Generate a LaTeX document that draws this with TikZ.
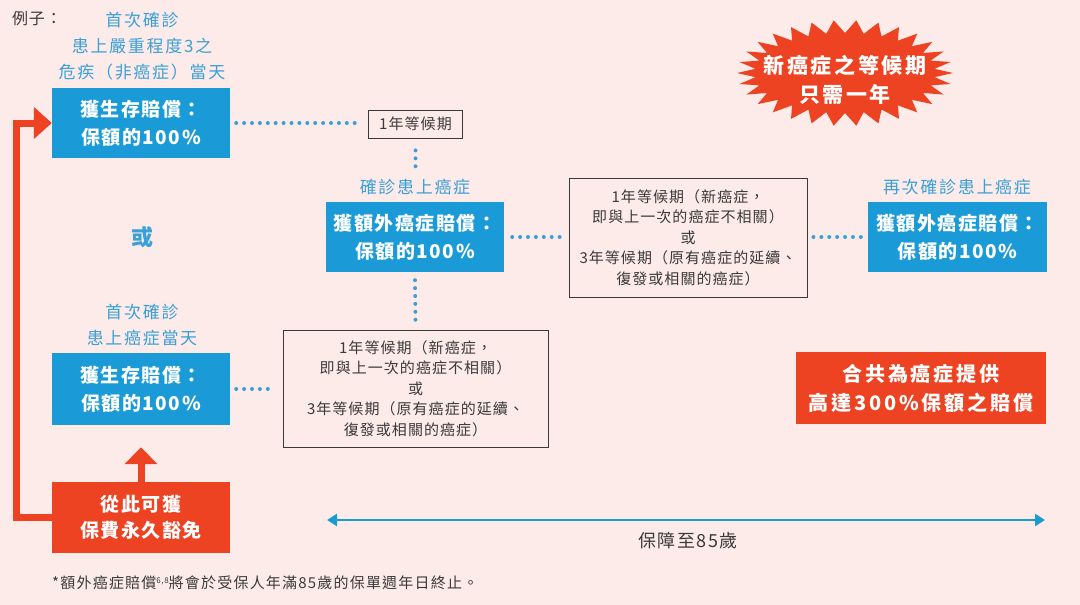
\documentclass[tikz,border=0pt]{standalone}
\usepackage{fontspec}
\setmainfont{Noto Sans CJK TC}
\usetikzlibrary{arrows.meta}
\definecolor{bg}{HTML}{FDEBE9}
\definecolor{boxblue}{HTML}{1A9BD7}
\definecolor{lblblue}{HTML}{3AA0D8}
\definecolor{myred}{HTML}{EE4322}
\definecolor{txtgray}{HTML}{3A3A3A}
\newcommand\myls[1]{\addfontfeature{LetterSpace=#1}}
\tikzset{
  bluebox/.style={fill=boxblue, text=white, font=\bfseries\fontsize{19}{28}\selectfont\myls{8}, align=center, minimum width=178pt, minimum height=70pt, inner sep=0pt},
  redbox/.style={fill=myred, text=white, font=\bfseries\fontsize{19}{26}\selectfont\myls{8}, align=center, minimum width=178pt, minimum height=71pt, inner sep=0pt},
  waitbox/.style={draw=txtgray, line width=0.9pt, text=txtgray, font=\fontsize{15}{20.5}\selectfont\myls{7}, align=center, inner sep=0pt},
  bluelbl/.style={text=lblblue, font=\fontsize{17}{26}\selectfont\myls{10}, align=center, inner sep=0pt},
  dotline/.style={draw=lblblue, line width=4pt, line cap=round, dash pattern=on 0pt off 7.9pt},
  redline/.style={draw=myred, line width=7pt},
}
\begin{document}
\begin{tikzpicture}[x=1pt,y=-1pt]
\fill[bg] (0,0) rectangle (1080,605);
\useasboundingbox (0,0) rectangle (1080,605);

\node[anchor=west, text=txtgray, font=\fontsize{16}{18}\selectfont\myls{5}, inner sep=0pt] (ex) at (12,18) {例子：};

% left column
\node[bluelbl] (t1) at (142,46) {首次確診\\患上嚴重程度3之\\危疾（非癌症）當天};
\node[bluebox] (b1) at (141,123) {獲生存賠償：\\保額的100\%};
\node[text=lblblue, font=\bfseries\fontsize{22}{26}\selectfont, inner sep=0pt] (or) at (142,237) {或};
\node[bluelbl] (t5) at (142,325) {首次確診\\患上癌症當天};
\node[bluebox, minimum height=72pt] (b5) at (141,389) {獲生存賠償：\\保額的100\%};
\node[redbox] (rb) at (141,517.5) {從此可獲\\保費永久豁免};

% middle
\node[waitbox, minimum width=94pt, minimum height=28pt] (w1) at (415.5,124) {1年等候期};
\node[bluelbl] (t2) at (415,187) {確診患上癌症};
\node[bluebox] (b2) at (415,237) {獲額外癌症賠償：\\保額的100\%};
\node[waitbox, minimum width=265pt, minimum height=117pt] (w5) at (415.5,388.5)
  {1年等候期（新癌症，\\即與上一次的癌症不相關）\\或\\3年等候期（原有癌症的延續、\\復發或相關的癌症）};
\node[waitbox, minimum width=238pt, minimum height=119pt] (w3) at (688,237.5)
  {1年等候期（新癌症，\\即與上一次的癌症不相關）\\或\\3年等候期（原有癌症的延續、\\復發或相關的癌症）};

% right
\node[bluelbl] (t4) at (957,187) {再次確診患上癌症};
\node[bluebox, minimum width=179pt] (b4) at (957.5,237) {獲額外癌症賠償：\\保額的100\%};
\node[redbox, minimum width=250pt, minimum height=72pt, font=\bfseries\fontsize{20}{29}\selectfont\myls{14}] (rb2) at (921,388) {合共為癌症提供\\高達300\%保額之賠償};

% starburst
\fill[myred, shift={(845,73)}] (0:108pt and 53pt)
  \foreach \a in {0,12,...,348} { -- (\a:108pt and 53pt) -- (\a+6:90pt and 40pt) } -- cycle;
\node[text=white, font=\bfseries\fontsize{21}{29}\selectfont\myls{12}, align=center, inner sep=0pt] (sb) at (845,80) {新癌症之等候期\\只需一年};

% dotted connectors
\draw[dotline] ([xshift=6pt]b1.east) -- ([xshift=-11pt]b1.east -| w1.west);
\draw[dotline] ([yshift=-12pt]w1.south) -- ([yshift=-31pt]w1.south);
\draw[dotline] ([xshift=8pt]b2.east) -- ([xshift=-7pt]b2.east -| w3.west);
\draw[dotline] ([xshift=6pt]w3.east |- b4.west) -- ([xshift=-5pt]b4.west);
\draw[dotline] ([yshift=-8pt]b2.south) -- ([yshift=7pt]w5.north);
\draw[dotline] ([xshift=6pt]b5.east) -- ([xshift=-11pt]b5.east -| w5.west);

% red arrows
\draw[redline, -{Triangle[width=31pt,length=18pt]}] (rb.west) -- ++(-35,0) |- (b1.west);
\draw[redline, -{Triangle[width=32pt,length=17pt]}, shorten >=22pt] (rb.north) -- (b5.south);

% coverage arrow
\coordinate (ca) at (327,520);
\coordinate (cb) at (1045,520);
\draw[boxblue, line width=2.6pt, {Triangle[width=12pt,length=10pt]}-{Triangle[width=12pt,length=10pt]}] (ca) -- (cb);
\node[text=txtgray, font=\fontsize{18}{20}\selectfont\myls{8}, inner sep=0pt] (cov) at (688,541) {保障至85歲};

% footnote
\node[anchor=west, text=txtgray, font=\fontsize{15}{17}\selectfont\myls{8}, inner sep=0pt] (fn) at (52,583)
  {*額外癌症賠償\raisebox{0.6ex}{\fontsize{8}{9}\selectfont 6,8}將會於受保人年滿85歲的保單週年日終止。};
\end{tikzpicture}
\end{document}
